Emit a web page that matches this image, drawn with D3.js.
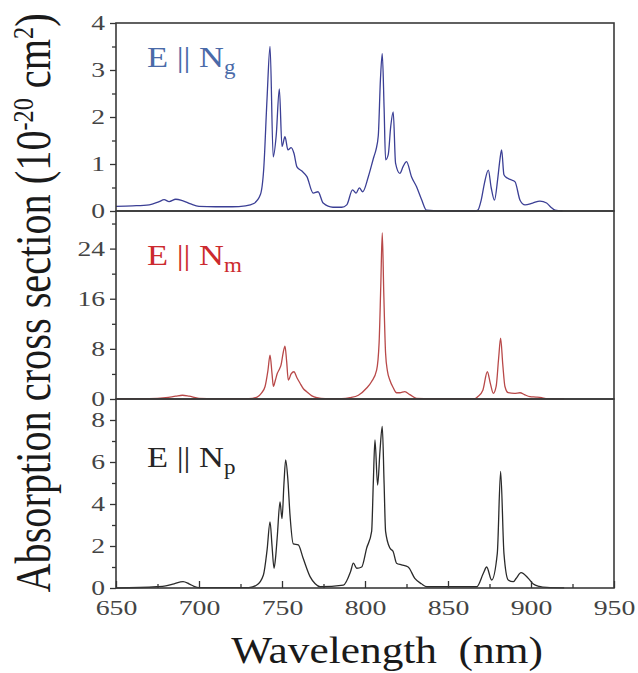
<!DOCTYPE html>
<html lang="es">
<head>
    <meta charset="UTF-8">
    <title>Sección eficaz de absorción</title>
    <script type="text/javascript" src="https://d3js.org/d3.v7.min.js"></script>
    <style>
      body { margin: 0; background: #fff; }
      text { font-family: "Liberation Serif", "Times New Roman", serif; }
    </style>
    <script type="text/javascript">
      // Datos (longitud de onda en nm, sección eficaz en 10^-20 cm2)
      var nmG = [650, 660, 670, 676, 679, 682, 686, 690, 695, 700, 710, 720, 728, 733, 737, 739, 741, 742.8, 744.7, 746.5, 748.4, 750, 751.8, 753.6, 755.5, 757.2, 759, 762, 765, 768.8, 771.7, 774.8, 780.7, 786, 789, 792.5, 794.6, 796.6, 798.6, 802, 805.4, 806.6, 808, 809.3, 810.4, 811.5, 812.4, 814, 815.5, 817, 818.4, 821, 823, 825, 828, 831, 834, 837, 850, 866, 868, 870, 872, 874.3, 876, 878, 880, 881.3, 882.3, 883.7, 885.7, 888.3, 890.4, 893.4, 896.4, 901, 905.4, 909.4, 912, 914.5, 919];
      var sigmaG = [0.10, 0.11, 0.13, 0.20, 0.24, 0.20, 0.25, 0.22, 0.15, 0.10, 0.09, 0.09, 0.11, 0.16, 0.35, 0.9, 2.4, 3.5, 1.15, 1.6, 2.6, 1.37, 1.58, 1.3, 1.35, 1.23, 0.94, 0.85, 0.73, 0.38, 0.41, 0.17, 0.08, 0.08, 0.13, 0.45, 0.38, 0.49, 0.41, 0.73, 1.16, 1.3, 1.6, 2.8, 3.35, 2.2, 1.09, 1.2, 1.8, 2.11, 1.02, 0.8, 0.95, 1.05, 0.73, 0.52, 0.25, 0.02, 0.0, 0.0, 0.02, 0.23, 0.6, 0.87, 0.5, 0.23, 0.7, 1.1, 1.3, 0.77, 0.7, 0.66, 0.62, 0.23, 0.13, 0.17, 0.21, 0.17, 0.08, 0.02, 0.0];

      var nmM = [650, 670, 680, 686, 690, 694, 700, 710, 730, 735, 737.5, 739.8, 741.5, 742.8, 744, 744.8, 746, 747.2, 748.5, 749.4, 750.8, 751.8, 752.8, 753.8, 755.5, 757.2, 759, 760.8, 763, 764.9, 768, 771, 776, 786, 791, 796, 801, 804, 807, 808.5, 809.5, 810.4, 811.3, 812.4, 813.5, 815, 817, 819, 821, 824, 827, 831, 840, 866, 868, 871, 873.7, 875.5, 877.3, 879, 880.5, 881.7, 883, 884.3, 886.3, 890, 893.4, 896, 899.4, 903, 906.4, 909, 920];
      var sigmaM = [0.05, 0.05, 0.2, 0.45, 0.6, 0.45, 0.1, 0.05, 0.05, 0.3, 0.9, 2.0, 4.5, 7.0, 4.0, 2.0, 3.0, 4.1, 4.8, 5.4, 7.5, 8.45, 6.0, 3.0, 4.0, 4.35, 3.4, 2.55, 1.6, 1.17, 0.5, 0.2, 0.05, 0.05, 0.2, 0.6, 1.75, 2.8, 4.6, 9, 18, 26.5, 17, 7.3, 4.5, 3.0, 1.8, 1.0, 1.0, 1.17, 0.7, 0.1, 0.05, 0.05, 0.4, 1.4, 4.35, 2.5, 0.9, 2.0, 6.5, 9.7, 5.5, 2.0, 1.0, 0.9, 1.0, 0.7, 0.37, 0.3, 0.2, 0.05, 0.02];

      var nmP = [650, 674.5, 680, 685, 690.4, 694, 697, 700, 730, 734.8, 738.8, 741, 742.8, 744, 745.2, 746.2, 747.2, 748.8, 750, 751.2, 752.2, 753.5, 754.8, 756.8, 759.8, 762.8, 766.9, 770, 772.9, 787, 791.3, 793, 795, 798, 801, 804, 805, 806, 807.6, 809, 810.4, 811.5, 812.4, 815, 817, 819, 822, 826, 830, 834, 837.2, 867.3, 871.3, 873.3, 876.3, 879.7, 881.7, 883.7, 886.3, 889.3, 891, 894, 898.4, 901.4, 905, 909.5, 920];
      var sigmaP = [0.0, 0.06, 0.1, 0.2, 0.3, 0.2, 0.08, 0.02, 0.02, 0.14, 0.62, 1.8, 3.15, 2.0, 0.94, 1.5, 2.5, 4.1, 3.3, 5.0, 6.1, 5.2, 3.5, 2.1, 2.05, 1.4, 0.54, 0.2, 0.06, 0.14, 0.78, 1.18, 0.94, 1.0, 1.9, 2.7, 5.0, 7.05, 4.9, 6.5, 7.7, 5.0, 2.7, 1.9, 1.73, 1.18, 1.1, 1.0, 0.46, 0.2, 0.06, 0.06, 0.7, 1.0, 0.38, 1.65, 5.55, 1.65, 0.38, 0.3, 0.45, 0.73, 0.46, 0.19, 0.08, 0.03, 0.01];

      // Ticks de cada panel
      var ticksX = [650, 700, 750, 800, 850, 900, 950];
      var ticksXMenor = [675, 725, 775, 825, 875, 925];
      var ticksG = [0, 1, 2, 3, 4];
      var ticksGMenor = [0.5, 1.5, 2.5, 3.5];
      var ticksM = [0, 8, 16, 24];
      var ticksMMenor = [4, 12, 20, 28];
      var ticksP = [0, 2, 4, 6, 8];
      var ticksPMenor = [1, 3, 5, 7];

      function diagrama(){
        var ancho = 638, alto = 673;
        var izq = 116, der = 614;

        var svg = d3.select("body")
                    .append("svg")
                    .attr("width", ancho)
                    .attr("height", alto);

        var escalaX = d3.scaleLinear().domain([650, 950]).range([izq, der]);

        // Paneles: dominio, posición y estilo
        var paneles = [
          { nm: nmG, sigma: sigmaG, max: 4,  arriba: 23,  abajo: 211, ticks: ticksG, menores: ticksGMenor,
            color: "#3b3f95", colorEtiq: "#4a6aa8", sub: "g", base: 67 },
          { nm: nmM, sigma: sigmaM, max: 30, arriba: 211, abajo: 399, ticks: ticksM, menores: ticksMMenor,
            color: "#b84848", colorEtiq: "#cc2a2e", sub: "m", base: 265 },
          { nm: nmP, sigma: sigmaP, max: 9,  arriba: 399, abajo: 588, ticks: ticksP, menores: ticksPMenor,
            color: "#2a2a2a", colorEtiq: "#262626", sub: "p", base: 467 }
        ];

        paneles.forEach(function (p) {
          var escalaY = d3.scaleLinear().domain([0, p.max]).range([p.abajo, p.arriba]);

          // Curva del espectro
          var puntos = p.nm.map(function (d, i) { return [d, p.sigma[i]]; });
          var linea = d3.line()
                        .x(function (d) { return escalaX(d[0]); })
                        .y(function (d) { return escalaY(d[1]); })
                        .curve(d3.curveMonotoneX);
          svg.append("path")
             .datum(puntos)
             .attr("d", linea)
             .attr("fill", "none")
             .attr("stroke", p.color)
             .attr("stroke-width", 1.3);

          // Eje Y con ticks principales hacia fuera
          var ejeY = svg.append("g")
                        .attr("transform", "translate(" + izq + ",0)")
                        .call(d3.axisLeft(escalaY).tickValues(p.ticks).tickFormat(d3.format("d"))
                                .tickSize(6).tickPadding(5));
          ejeY.select(".domain").remove();
          ejeY.selectAll("line").attr("stroke", "#333").attr("stroke-width", 1.3);
          ejeY.selectAll("text")
              .attr("x", 0)
              .attr("transform", "translate(-11,0) scale(1.38,1)")
              .attr("font-size", "20px")
              .attr("fill", "#444");

          // Ticks menores
          var ejeYm = svg.append("g")
                         .attr("transform", "translate(" + izq + ",0)")
                         .call(d3.axisLeft(escalaY).tickValues(p.menores).tickSize(4).tickFormat(""));
          ejeYm.select(".domain").remove();
          ejeYm.selectAll("line").attr("stroke", "#333").attr("stroke-width", 1.3);

          // Marco del panel
          svg.append("rect")
             .attr("x", izq)
             .attr("y", p.arriba)
             .attr("width", der - izq)
             .attr("height", p.abajo - p.arriba)
             .attr("fill", "none")
             .attr("stroke", "#3a3a3a")
             .attr("stroke-width", 1.6);

          // Etiqueta E || N
          var et = svg.append("text")
                      .attr("transform", "translate(147," + p.base + ") scale(1.15,1)")
                      .attr("font-size", "30px")
                      .attr("fill", p.colorEtiq);
          et.append("tspan").text("E || N");
          et.append("tspan").attr("dy", 7).attr("font-size", "20px").text(p.sub);
        });

        // Eje X
        var yBase = 588;
        var ejeX = svg.append("g")
                      .attr("transform", "translate(0," + yBase + ")")
                      .call(d3.axisBottom(escalaX).tickValues(ticksX).tickFormat(d3.format("d")).tickSize(-7));
        ejeX.select(".domain").remove();
        ejeX.selectAll("line").attr("stroke", "#333").attr("stroke-width", 1.3);
        ejeX.selectAll("text")
            .attr("y", 27)
            .attr("dy", 0)
            .attr("transform", "scale(1.39,1)")
            .attr("font-size", "20px")
            .attr("fill", "#444");

        var ejeXm = svg.append("g")
                       .attr("transform", "translate(0," + yBase + ")")
                       .call(d3.axisBottom(escalaX).tickValues(ticksXMenor).tickSize(-4).tickFormat(""));
        ejeXm.select(".domain").remove();
        ejeXm.selectAll("line").attr("stroke", "#333").attr("stroke-width", 1.3);

        // Título del eje X
        svg.append("text")
           .attr("transform", "translate(387,663) scale(1.14,1)")
           .attr("text-anchor", "middle")
           .attr("font-size", "38px")
           .attr("fill", "#1a1a1a")
           .text("Wavelength\u00a0\u00a0(nm)");

        // Título del eje Y con superíndices
        var tituloY = svg.append("text")
                         .attr("transform", "translate(50,303) rotate(-90) scale(0.806,1)")
                         .attr("text-anchor", "middle")
                         .attr("font-size", "50px")
                         .attr("fill", "#1a1a1a");
        tituloY.append("tspan").text("Absorption cross section (10");
        tituloY.append("tspan").attr("dy", -17).attr("font-size", "30px").text("-20");
        tituloY.append("tspan").attr("dy", 17).text(" cm");
        tituloY.append("tspan").attr("dy", -17).attr("font-size", "30px").text("2");
        tituloY.append("tspan").attr("dy", 17).text(")");
      };
    </script>
</head>
<body onload="diagrama()">

</body>
</html>
